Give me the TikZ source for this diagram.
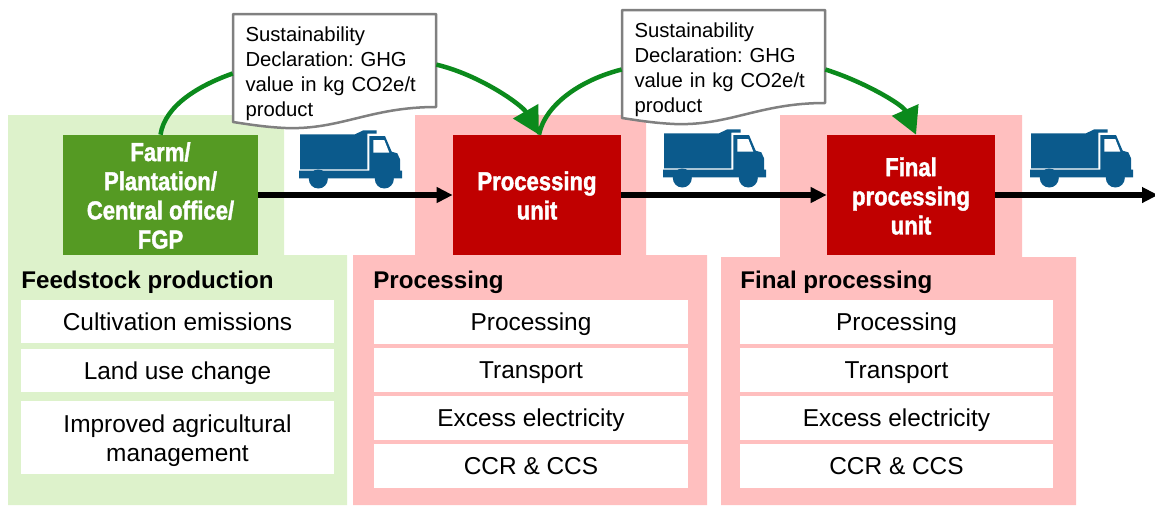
\documentclass[tikz,border=0pt]{standalone}
\usepackage{fontspec}
\setmainfont{Liberation Sans}
\newfontfamily\unitfont[FakeStretch=0.85,FakeBold=1.5]{Liberation Sans Bold}
\usetikzlibrary{arrows.meta,calc}
\definecolor{feedbg}{HTML}{DDF2CB}
\definecolor{procbg}{HTML}{FFBFBF}
\definecolor{farmgreen}{HTML}{559A23}
\definecolor{unitred}{HTML}{C00000}
\definecolor{arcgreen}{HTML}{0B8A1C}
\definecolor{truckblue}{HTML}{0B5A8C}
\tikzset{
  unitbox/.style={minimum height=2.4cm,inner sep=0pt},
  unitlabel/.style={text=white,font=\unitfont\fontsize{14.8}{16.6}\selectfont,align=center,inner sep=0pt},
  notebox/.style={font=\frenchspacing\fontsize{11.55}{14.3}\selectfont,align=left,text width=3.56cm,minimum width=4.06cm,inner sep=0pt},
  itembox/.style={fill=white,font=\fontsize{13.9}{16.5}\selectfont,align=center,inner sep=0pt,minimum width=6.27cm},
  itemline/.style={itembox,text height=13.2pt,text depth=3pt},
  paneltitle/.style={font=\bfseries\fontsize{13.75}{16}\selectfont,anchor=west,inner sep=0pt},
  flow/.style={-{Triangle[length=0.32cm,width=0.3cm]},line width=0.11cm},
  declflow/.style={arcgreen,line width=0.09cm},
  declhead/.style={declflow,-{Triangle[length=0.54cm,width=0.56cm]}},
  notepath/.style={draw={rgb,255:red,128;green,128;blue,128},line width=0.05cm,fill=white,line join=round},
  truck/.pic={
    \fill[truckblue] (1,4.3) -- (56,4.3) -- (64.3,0.3) -- (77.7,0.3) -- (77.7,3.7) -- (68.3,3.7) -- (68.3,39.3) -- (1,39.3) -- cycle;
    \fill[truckblue] (70.3,6) -- (86,6) -- (92.7,21.7) -- (98.3,23.3) -- (101,29.3) -- (101,40.7) -- (103,40.7) -- (103,48.3) -- (0,48.3) -- (0,40.7) -- (70.3,40.7) -- cycle;
    \fill[white] (74.3,10) -- (85.3,10) -- (90.3,22.7) -- (74.3,22.7) -- cycle;
    \fill[truckblue] (19.3,49) circle (0.19cm) (85.3,49) circle (0.19cm);
  }
}
\newcommand{\noteoutline}[1]{
  \draw[notepath] ($(#1)+(-101.5,-57)$) -- ($(#1)+(101.5,-57)$) -- ($(#1)+(101.5,36)$)
    .. controls +(-66,0) and +(55,2) .. ($(#1)+(-49,57)$)
    .. controls +(-20,-1) and +(20,3) .. ($(#1)+(-101.5,51)$) -- cycle;
}
\begin{document}
\begin{tikzpicture}[x=0.02cm,y=-0.02cm]
  \useasboundingbox (0,0) rectangle (1155,505);
  % stage backgrounds
  \fill[feedbg] (8,115) -- (284,115) -- (284,255) -- (347,255) -- (347,505) -- (8,505) -- cycle;
  \fill[procbg] (415,115) -- (646,115) -- (646,255) -- (707,255) -- (707,505) -- (353,505) -- (353,255) -- (415,255) -- cycle;
  \fill[procbg] (780,115) -- (1022,115) -- (1022,257) -- (1076,257) -- (1076,505) -- (721,505) -- (721,257) -- (780,257) -- cycle;
  % units
  \node[unitbox,fill=farmgreen,minimum width=3.9cm] (farm) at (160.5,195) {};
  \node[unitbox,fill=unitred,minimum width=3.36cm] (proc) at (537,195) {};
  \node[unitbox,fill=unitred,minimum width=3.36cm] (final) at (911,195) {};
  \node[unitlabel] (farmtext) at (160.5,195.5) {Farm/\\Plantation/\\Central office/\\FGP};
  \node[unitlabel] (proctext) at (537,195.5) {Processing\\unit};
  \node[unitlabel] (finaltext) at (911,196) {Final\\processing\\unit};
  \coordinate (out) at (1158,195);
  \draw[flow] (farm) -- (proc);
  \draw[flow] (proc) -- (final);
  \draw[flow] (final) -- (out);
  \pic at (299,130) {truck};
  \pic at (663,129) {truck};
  \pic at (1030,129) {truck};
  % declarations
  \coordinate (c1) at (334.5,71);
  \coordinate (c2) at (723.5,67);
  \noteoutline{c1}
  \noteoutline{c2}
  \node[notebox] (note1) at ($(c1)+(0,2.5)$) {Sustainability\\Declaration: GHG\\value in kg CO2e/t\\product};
  \node[notebox] (note2) at ($(c2)+(0,2.5)$) {Sustainability\\Declaration: GHG\\value in kg CO2e/t\\product};
  \draw[declflow] (farm.north) .. controls (165,105) and (200,85) .. (note1.west);
  \draw[declhead] (note1.5) .. controls (480,75) and (522,105) .. ($(proc.north)+(2,0)$);
  \draw[declflow] ($(proc.north)+(2,0)$) .. controls (545,105) and (580,80) .. (note2.west);
  \draw[declhead] (note2.east) .. controls (865,82) and (903,105) .. ($(final.north)+(5,0)$);
  % feedstock panel
  \node[paneltitle] (feedtitle) at (21,282) {Feedstock production};
  \node[itemline,minimum height=0.86cm] (cultiv) at (177.5,321.5) {Cultivation emissions};
  \node[itemline,minimum height=0.86cm] (luc) at (177.5,370.5) {Land use change};
  \node[itembox,minimum height=1.46cm] (agri) at (177.5,437.5) {};
  \node[font=\fontsize{13.9}{16.5}\selectfont,align=center,inner sep=0pt] (agritext) at (177.5,440.5) {Improved agricultural\\management};
  % processing panels
  \node[paneltitle] (proctitle) at (373,282) {Processing};
  \node[paneltitle] (finaltitle) at (740,282) {Final processing};
  \foreach \name/\cx in {proc/531,final/896.5} {
    \node[itemline,minimum height=0.88cm] (\name a) at (\cx,322) {Processing};
    \node[itemline,minimum height=0.88cm] (\name b) at (\cx,370) {Transport};
    \node[itemline,minimum height=0.88cm] (\name c) at (\cx,418) {Excess electricity};
    \node[itemline,minimum height=0.88cm] (\name d) at (\cx,466) {CCR \& CCS};
  }
\end{tikzpicture}
\end{document}
